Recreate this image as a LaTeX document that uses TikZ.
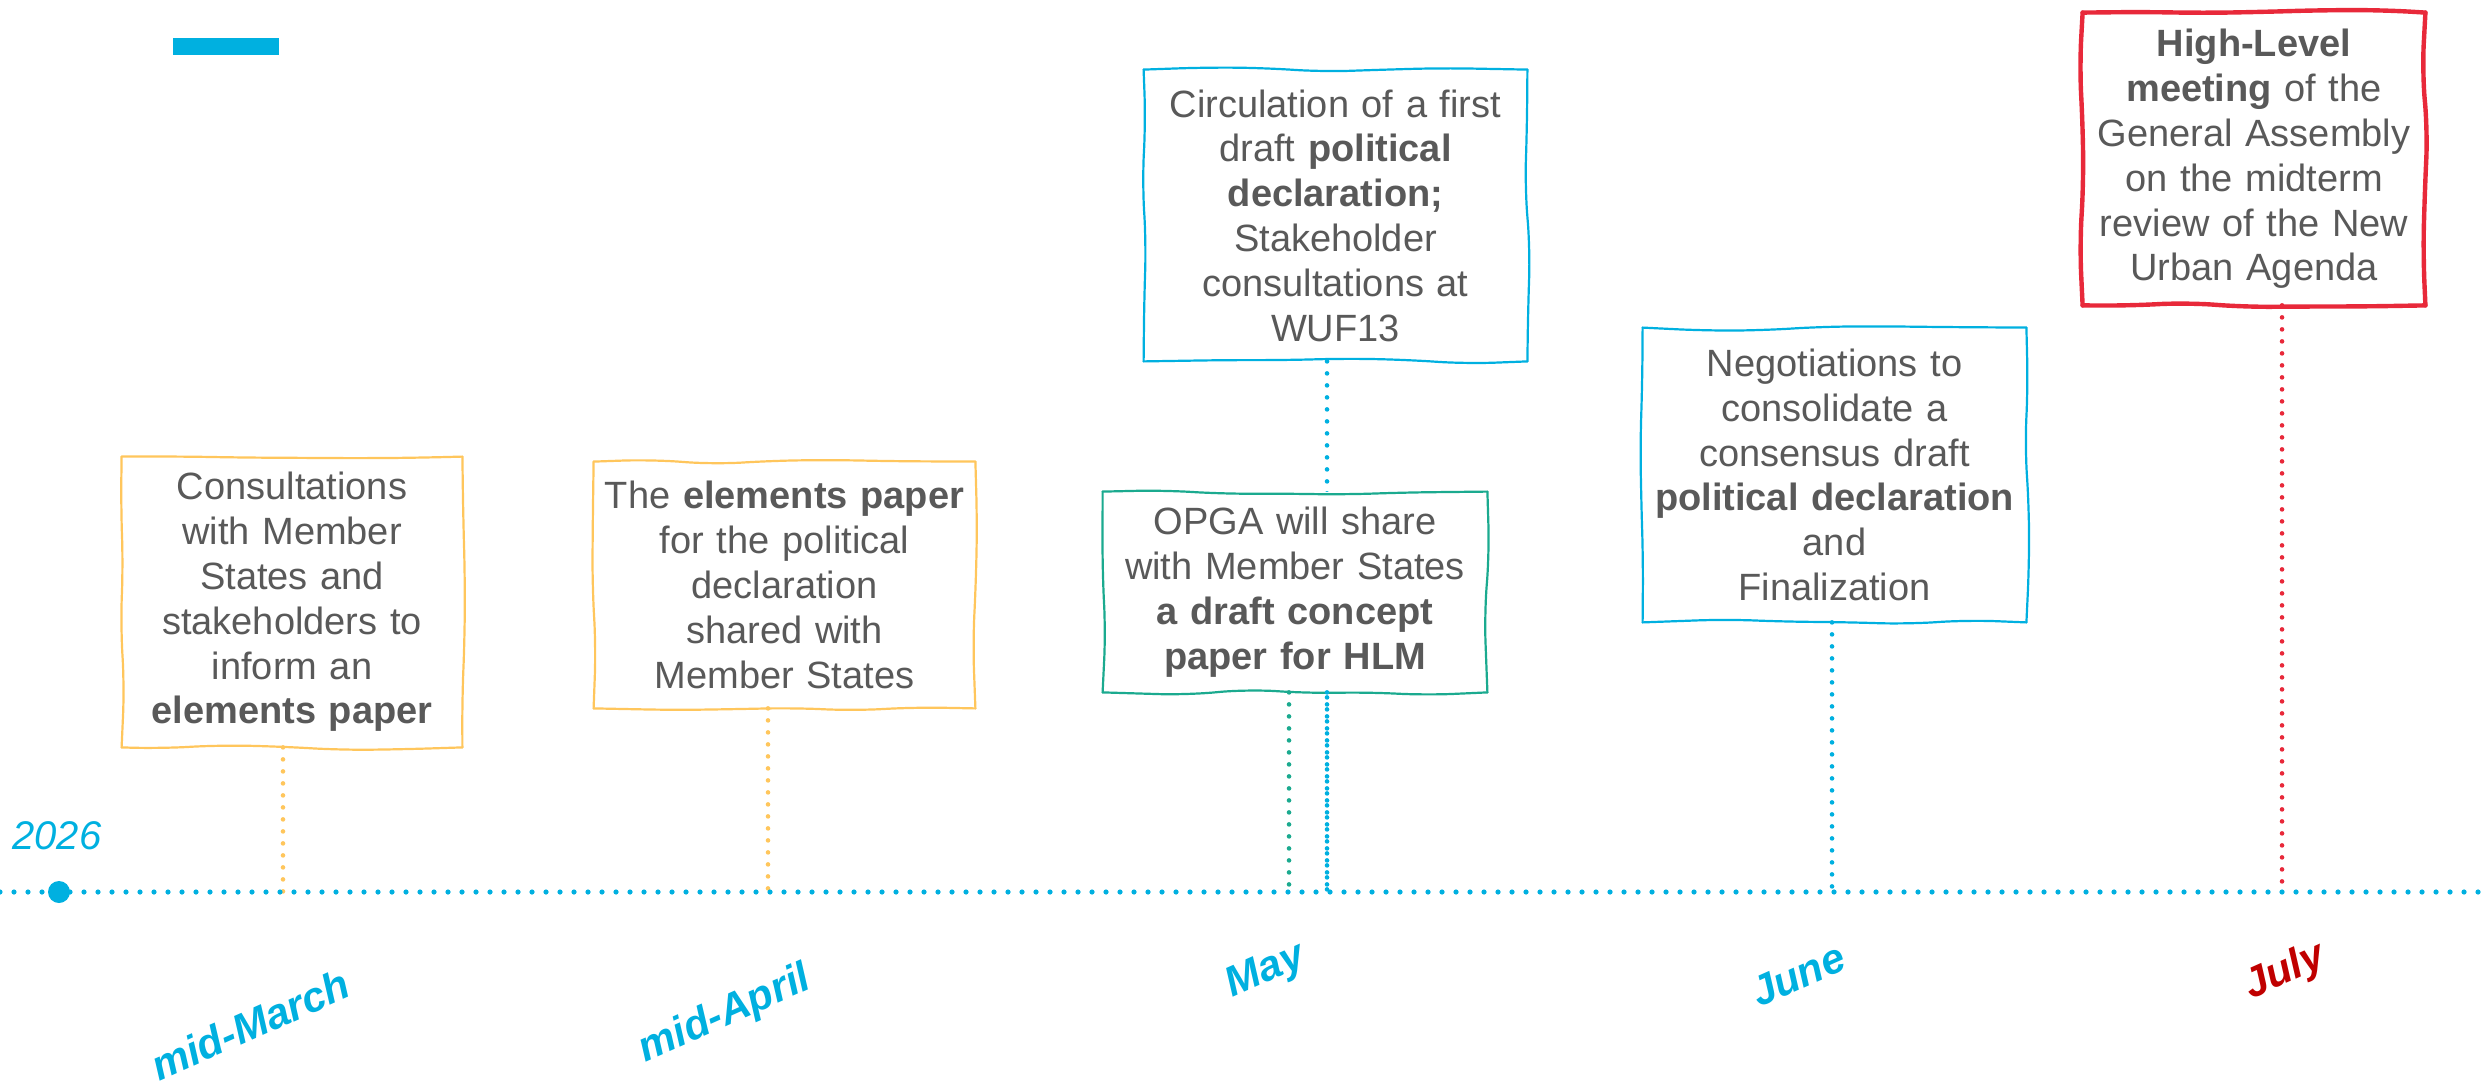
\documentclass[tikz,border=0pt]{standalone}
\usepackage{fontspec}
\setmainfont{Liberation Sans}
\usetikzlibrary{decorations.pathmorphing}
\definecolor{tlblue}{HTML}{00B0E0}
\definecolor{tlorange}{HTML}{FFC65C}
\definecolor{tlgreen}{HTML}{1BAA8F}
\definecolor{tlred}{HTML}{E8293A}
\definecolor{julyred}{HTML}{C00000}
\definecolor{txtgrey}{HTML}{595959}
\newcommand\wobbox[3]{%
  \draw[wob,#2,line width=#3] (#1.north west) -- (#1.north east);
  \draw[wob,#2,line width=#3] (#1.north east) -- (#1.south east);
  \draw[wob,#2,line width=#3] (#1.south east) -- (#1.south west);
  \draw[wob,#2,line width=#3] (#1.south west) -- (#1.north west);}
\begin{document}
\pgfmathsetseed{11}
\begin{tikzpicture}[x=0.5pt,y=-0.5pt,
  evbox/.style={fill=white, inner sep=0pt, align=center,
    text=txtgrey, font=\fontsize{19pt}{22.4pt}\selectfont},
  wob/.style={line cap=round, line join=round, decorate,
    decoration={random steps, segment length=30pt, amplitude=1.6pt},
    rounded corners=14pt},
  tline/.style={line width=2.6pt, line cap=round, dash pattern=on 0pt off 7pt},
  conn/.style={line width=2.3pt, line cap=round, dash pattern=on 0pt off 6pt},
  month/.style={font=\bfseries\itshape\fontsize{21pt}{24pt}\selectfont, rotate=24, text=tlblue}
]
\useasboundingbox (0,0) rectangle (2488,1085);

% top-left bar
\fill[tlblue] (173,38) rectangle (279,55);

% timeline coordinates
\coordinate (tl0) at (0,892);
\coordinate (tl1) at (2488,892);
\coordinate (t1) at (283,892);
\coordinate (t2) at (768,892);
\coordinate (t3) at (1327,892);
\coordinate (t4) at (1289,892);
\coordinate (t5) at (1832,892);
\coordinate (t6) at (2282,892);

% box 3 first, then its connector (passes behind box 4)
\node[evbox, text width=191.5pt, minimum height=145.5pt] (b3) at (1335.5,215.5)
  {Circulation of a first\\draft \textbf{political}\\\textbf{declaration;}\\Stakeholder\\consultations at\\WUF13};
\draw[conn, tlblue] (b3.south -| t3) -- (t3);

% other boxes
\node[evbox, text width=170pt, minimum height=145pt] (b1) at (292,602)
  {Consultations\\with Member\\States and\\stakeholders to\\inform an\\\textbf{elements paper}};
\node[evbox, text width=190.5pt, minimum height=123pt] (b2) at (784.5,585)
  {The \textbf{elements paper}\\for the political\\declaration\\shared with\\Member States};
\node[evbox, text width=192pt, minimum height=100pt] (b4) at (1295,592)
  {OPGA will share\\with Member States\\\textbf{a draft concept}\\\textbf{paper for HLM}};
\node[evbox, text width=191.5pt, minimum height=147pt] (b5) at (1834.5,475)
  {Negotiations to\\consolidate a\\consensus draft\\\textbf{political declaration}\\and\\Finalization};
\node[evbox, text width=171pt, minimum height=146pt] (b6) at (2254,159)
  {\textbf{High-Level}\\\textbf{meeting} of the\\General Assembly\\on the midterm\\review of the New\\Urban Agenda};

% wobbly borders
\wobbox{b1}{tlorange}{1.1pt}
\wobbox{b2}{tlorange}{1.1pt}
\wobbox{b3}{tlblue}{1.1pt}
\wobbox{b4}{tlgreen}{1.1pt}
\wobbox{b5}{tlblue}{1.1pt}
\wobbox{b6}{tlred}{2.2pt}

% connectors
\draw[conn, tlorange] (b1.south -| t1) -- (t1);
\draw[conn, tlorange] (b2.south -| t2) -- (t2);
\draw[conn, tlgreen] (b4.south -| t4) -- (t4);
\draw[conn, tlblue] (b4.south -| t3) -- (t3);
\draw[conn, tlblue] (b5.south -| t5) -- (t5);
\draw[conn, tlred] (b6.south -| t6) -- (t6);

% timeline
\draw[tline, tlblue] (tl0) -- (tl1);
\fill[tlblue] (59,892) circle (5.5pt);
\node[font=\itshape\fontsize{20pt}{24pt}\selectfont, text=tlblue] (y2026) at (57,836) {2026};

% month labels
\node[month] (m1) at (250,1025) {mid-March};
\node[month] (m2) at (725,1015) {mid-April};
\node[month] (m3) at (1266,972) {May};
\node[month] (m4) at (1798,975) {June};
\node[month, text=julyred] (m5) at (2285,972) {July};
\end{tikzpicture}
\end{document}
